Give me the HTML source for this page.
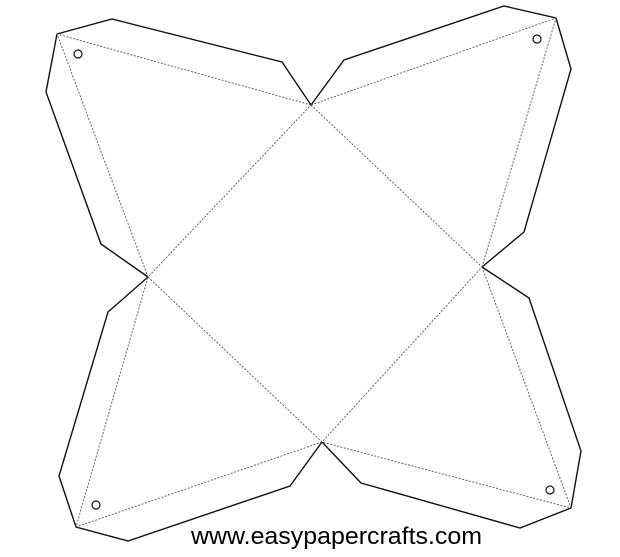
<!DOCTYPE html>
<html><head><meta charset="utf-8"><style>
html,body{margin:0;padding:0;background:#fff;}
svg{display:block;}
</style></head><body>
<svg width="620" height="557" viewBox="0 0 620 557">
<rect width="620" height="557" fill="#fff"/>
<g fill="none" stroke="#111" stroke-width="1.4" stroke-linejoin="miter">
<polyline points="148,277 101,244 46,92 57,34 112,19 282,62 311,105"/>
<polyline points="311,105 344,60 504,6 556,18 571,69 524,232 482,267"/>
<polyline points="482,267 529,298 581,451 571,508 520,528 361,483 322,442"/>
<polyline points="322,442 290,486 128,541 76,527 59,476 108,312 148,277"/>
</g>
<g fill="none" stroke="#555" stroke-width="0.9" stroke-dasharray="2,1.5">
<polygon points="311,105 482,267 322,442 148,277"/>
<polyline points="311,105 57,34 148,277"/>
<polyline points="311,105 556,18 482,267"/>
<polyline points="482,267 571,508 322,442"/>
<polyline points="322,442 76,527 148,277"/>
</g>
<g fill="none" stroke="#111" stroke-width="1.2">
<circle cx="78" cy="54" r="4"/>
<circle cx="537" cy="39" r="4"/>
<circle cx="550" cy="490" r="4"/>
<circle cx="96" cy="505" r="4"/>
</g>
<text x="191" y="544" textLength="291" lengthAdjust="spacingAndGlyphs" font-family="Liberation Sans, sans-serif" font-size="24" fill="#000">www.easypapercrafts.com</text>
</svg>
</body></html>
